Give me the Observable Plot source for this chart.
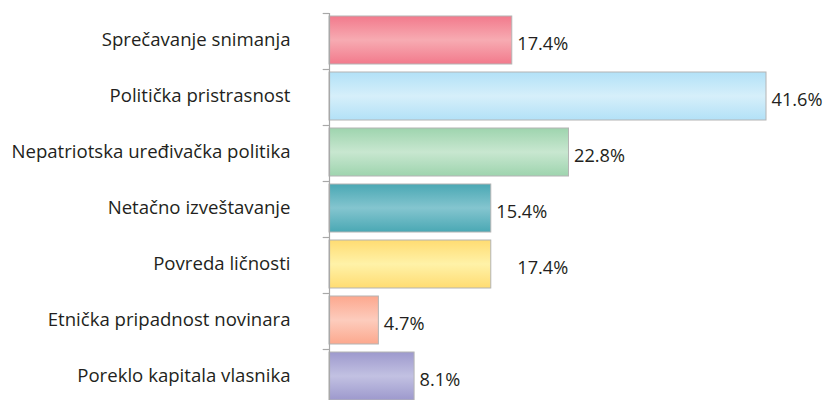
<!DOCTYPE html>
<html>
<head>
<meta charset="utf-8">
<script src="https://cdn.jsdelivr.net/npm/d3@7"></script>
<script src="https://cdn.jsdelivr.net/npm/@observablehq/plot@0.6"></script>
<style>
  html, body { margin: 0; padding: 0; background: #fff; }
  svg { display: block; }
</style>
</head>
<body>
<div id="chart"></div>
<script>
const categories = [
  "Sprečavanje snimanja",
  "Politička pristrasnost",
  "Nepatriotska uređivačka politika",
  "Netačno izveštavanje",
  "Povreda ličnosti",
  "Etnička pripadnost novinara",
  "Poreklo kapitala vlasnika"
];
// bar lengths as drawn in the picture
const barValues = [17.4, 41.6, 22.8, 15.4, 15.4, 4.7, 8.1];
// labels as printed in the picture
const labelValues = [17.4, 41.6, 22.8, 15.4, 17.4, 4.7, 8.1];
const edgeColors = ["#f27a8c", "#b2e1f7", "#9ed4ae", "#4aa8b4", "#ffdc72", "#fca88e", "#9d99cd"];
const midColors  = ["#f7abb2", "#d6effa", "#c8e7d0", "#84c5cf", "#fff2a8", "#fdccbd", "#c2c1e2"];

const data = categories.map((c, i) => ({
  cat: c, bar: barValues[i], label: labelValues[i], fill: `url(#grad${i})`
}));

const font = "'Open Sans', 'Noto Sans', sans-serif";

const plot = Plot.plot({
  width: 826,
  height: 400,
  marginLeft: 329,
  marginRight: 60,
  marginTop: 13,
  marginBottom: 0,
  style: { fontFamily: font, background: "#fff" },
  x: { domain: [0, 41.6], axis: null },
  y: { domain: categories, range: [13, 405], padding: 0, axis: null },
  color: { type: "identity" },
  marks: [
    Plot.barX(data, {
      y: "cat", x: "bar", fill: "fill",
      stroke: "#b4b4b4", strokeWidth: 1,
      insetTop: 3, insetBottom: 5
    }),
    Plot.ruleX([0], { stroke: "#a8a8a8", strokeWidth: 1.2 }),
    Plot.ruleY(categories, {
      y: d => d, x1: -0.6, x2: 0, dy: -28,
      stroke: "#a8a8a8", strokeWidth: 1.2
    }),
    Plot.axisY({
      tickSize: 0, tickPadding: 39, fontSize: 18.6, label: null,
      fill: "#231f20", dy: -1
    }),
    Plot.text(data, {
      y: "cat", x: "label", text: d => `${d.label.toFixed(1)}%`,
      textAnchor: "start", dx: 5, dy: 3,
      fontSize: 18.2, fill: "#231f20"
    })
  ]
});

// gradient definitions
const svg = d3.select(plot);
const defs = svg.insert("defs", ":first-child");
edgeColors.forEach((e, i) => {
  const g = defs.append("linearGradient")
    .attr("id", `grad${i}`).attr("x1", 0).attr("y1", 0).attr("x2", 0).attr("y2", 1);
  g.append("stop").attr("offset", "0%").attr("stop-color", e);
  g.append("stop").attr("offset", "50%").attr("stop-color", midColors[i]);
  g.append("stop").attr("offset", "100%").attr("stop-color", e);
});

document.getElementById("chart").appendChild(plot);
</script>
</body>
</html>
